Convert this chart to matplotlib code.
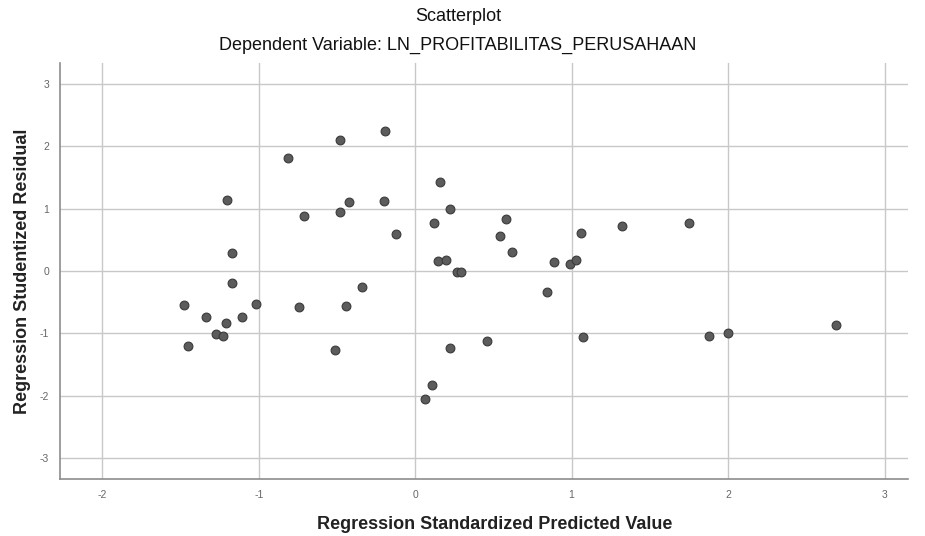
import matplotlib.pyplot as plt

# --- data (standardized predicted vs studentized residual) ---
pred = [-1.48, -1.45, -1.34, -1.27, -1.23, -1.21, -1.20, -1.17, -1.17, -1.11,
        -1.02, -0.81, -0.74, -0.71, -0.51, -0.48, -0.48, -0.44, -0.42, -0.34,
        -0.19, -0.20, -0.12, 0.06, 0.11, 0.12, 0.16, 0.145, 0.20, 0.22,
        0.22, 0.27, 0.29, 0.46, 0.54, 0.58, 0.62, 0.84, 0.89, 0.99,
        1.03, 1.06, 1.07, 1.32, 1.75, 1.88, 2.00, 2.69]
resid = [-0.55, -1.20, -0.74, -1.01, -1.04, -0.83, 1.14, 0.29, -0.19, -0.74,
         -0.53, 1.81, -0.58, 0.89, -1.27, 2.10, 0.95, -0.56, 1.11, -0.26,
         2.25, 1.13, 0.59, -2.05, -1.83, 0.77, 1.43, 0.16, 0.18, 0.99,
         -1.24, -0.01, -0.01, -1.13, 0.56, 0.83, 0.30, -0.33, 0.14, 0.11,
         0.17, 0.61, -1.06, 0.73, 0.77, -1.04, -1.00, -0.86]

xticks = [-2, -1, 0, 1, 2, 3]
yticks = [-3, -2, -1, 0, 1, 2, 3]

plt.rcParams['font.family'] = ['Liberation Sans', 'DejaVu Sans']
plt.rcParams['axes.unicode_minus'] = False

fig = plt.figure(figsize=(9.25, 5.36), dpi=100)
ax = fig.add_axes([0.0649, 0.1063, 0.9167, 0.7762])

ax.scatter(pred, resid, s=40, color="#5c5c5c", edgecolors="#3a3a3a",
           linewidths=0.8, zorder=3)

ax.set_xlim(-2.27, 3.15)
ax.set_ylim(-3.34, 3.34)
ax.set_xticks(xticks)
ax.set_yticks(yticks)
ax.grid(True, color="#c8c8c8", linewidth=1.0, zorder=0)
ax.tick_params(length=0, labelsize=7.5, colors="#666666", pad=8)

for side in ["top", "right"]:
    ax.spines[side].set_visible(False)
for side in ["left", "bottom"]:
    ax.spines[side].set_color("#8c8c8c")
    ax.spines[side].set_linewidth(1.2)

ax.set_xlabel("Regression Standardized Predicted Value", fontsize=13,
              fontweight="bold", color="#222222")
ax.xaxis.set_label_coords(0.513, -0.088)
ax.set_ylabel("Regression Studentized Residual", fontsize=13,
              fontweight="bold", color="#222222", labelpad=6)

fig.text(0.495, 0.970, "Scatterplot", ha="center", va="center",
         fontsize=13, color="#111111")
fig.text(0.495, 0.916, "Dependent Variable: LN_PROFITABILITAS_PERUSAHAAN",
         ha="center", va="center", fontsize=13, color="#111111")

fig.savefig("out.png", dpi=100)
